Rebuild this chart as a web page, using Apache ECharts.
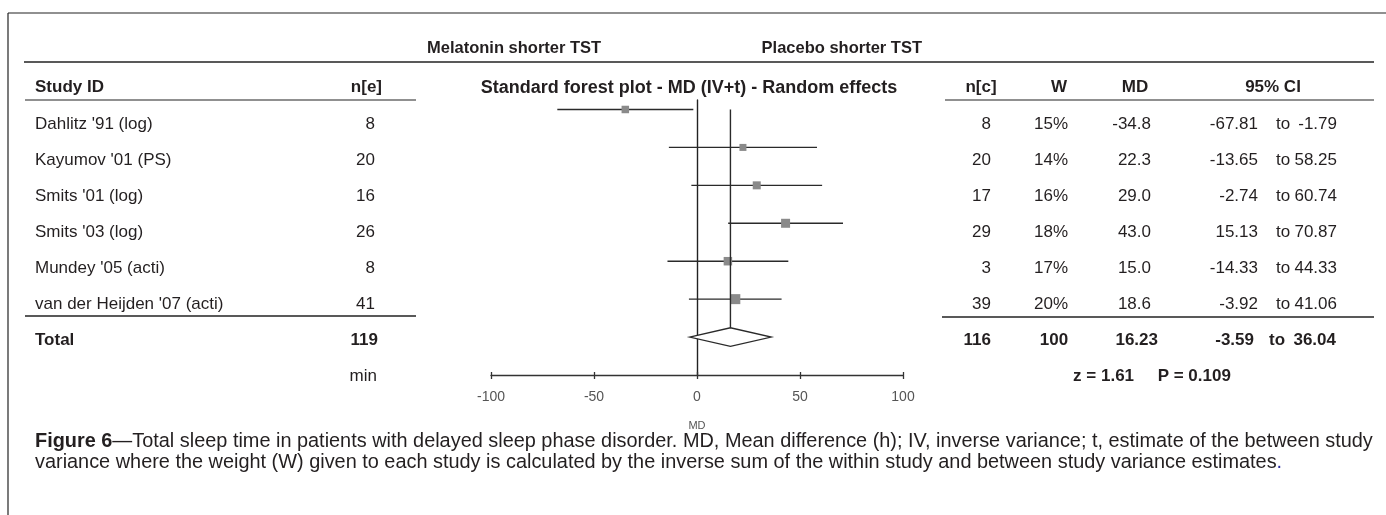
<!DOCTYPE html>
<html>
<head>
<meta charset="utf-8">
<script src="https://cdn.jsdelivr.net/npm/echarts@6/dist/echarts.min.js"></script>
<style>
  html, body { margin: 0; padding: 0; background: #fff; }
  #chart { width: 1386px; height: 515px; }
</style>
</head>
<body>
<div id="chart"></div>
<script>
// --- data ---
const studies = ["Dahlitz '91 (log)", "Kayumov '01 (PS)", "Smits '01 (log)", "Smits '03 (log)", "Mundey '05 (acti)", "van der Heijden '07 (acti)"];
const nE = [8, 20, 16, 26, 8, 41];
const nC = [8, 20, 17, 29, 3, 39];
const weights = [15, 14, 16, 18, 17, 20];
const md = [-34.8, 22.3, 29.0, 43.0, 15.0, 18.6];
const ciLow = [-67.81, -13.65, -2.74, 15.13, -14.33, -3.92];
const ciHigh = [-1.79, 58.25, 60.74, 70.87, 44.33, 41.06];
const totals = { nE: 119, nC: 116, w: 100 };
const pooled = [16.23, -3.59, 36.04]; // MD, low, high
const zText = 'z = 1.61     P = 0.109';
const xTicks = { min: -100, max: 100, step: 50 };

// --- layout ---
const FONT = '"Liberation Sans", Arial, sans-serif';
const INK = '#231f20';
const COL = { study: 35, nE: 375, nC: 991, w: 1051, md: 1151, lo: 1258, to: 1283, hi: 1337 };
const TOT = { nE: 378, nC: 991, w: 1054, md: 1158, lo: 1254, to: 1277, hi: 1336 };
const ROW_TOTAL = 6, ROW_FOOT = 7;
const CAP = 19.9;

const chart = echarts.init(document.getElementById('chart'));

// text cell: column x from layout, row y from the table axis
function cellSeries(name, rows, x, align, weight) {
  return {
    type: 'custom', name: name, xAxisIndex: 0, yAxisIndex: 0,
    data: rows,
    renderItem: function (params, api) {
      const p = api.coord([0, api.value(0)]);
      return {
        type: 'text', x: x, y: p[1],
        style: {
          text: String(rows[params.dataIndex][1]),
          fill: INK, font: (weight || 'normal') + ' 17px ' + FONT,
          align: align, textAlign: align, verticalAlign: 'middle', textVerticalAlign: 'middle'
        }
      };
    }
  };
}
const idx = (arr, f) => arr.map((v, i) => [i, f ? f(v) : v]);

function txt(x, y, text, opts) {
  opts = opts || {};
  return {
    type: 'text', x: x, y: y, silent: true,
    style: {
      text: text, fill: opts.fill || INK,
      font: (opts.weight || 'normal') + ' ' + (opts.size || 17) + 'px ' + FONT,
      align: opts.align || 'left', textAlign: opts.align || 'left',
      verticalAlign: 'middle', textVerticalAlign: 'middle',
      rich: opts.rich
    }
  };
}
function rule(x1, y1, x2, y2, w) {
  return { type: 'line', silent: true, shape: { x1: x1, y1: y1, x2: x2, y2: y2 }, style: { stroke: '#222', lineWidth: w || 1.2 } };
}

const option = {
  animation: false,
  grid: [
    { left: 0, right: 0, top: 124.5, height: 252 },           // table rows
    { left: 491, right: 483, top: 100, bottom: 140 }          // forest plot
  ],
  xAxis: [
    { gridIndex: 0, type: 'value', min: 0, max: 1386, show: false },
    {
      gridIndex: 1, type: 'value', min: xTicks.min, max: xTicks.max, interval: xTicks.step,
      position: 'bottom', splitLine: { show: false },
      axisLine: { onZero: false, lineStyle: { color: '#333', width: 1.3 } },
      axisTick: { length: 4, lineStyle: { color: '#333', width: 1.3 } },
      axisLabel: { color: '#555', fontSize: 14, fontFamily: FONT, margin: 15 },
      name: 'MD', nameLocation: 'middle', nameGap: 45,
      nameTextStyle: { color: '#555', fontSize: 11, fontFamily: FONT }
    },
    {
      gridIndex: 1, type: 'value', min: xTicks.min, max: xTicks.max, interval: xTicks.step,
      position: 'bottom', splitLine: { show: false },
      axisLine: { show: false, onZero: false },
      axisTick: { inside: true, length: 3, lineStyle: { color: '#333', width: 1.3 } },
      axisLabel: { show: false }
    }
  ],
  yAxis: [
    { gridIndex: 0, type: 'value', min: 0, max: 7, inverse: true, show: false },
    {
      gridIndex: 1, type: 'value', min: -0.25, max: 7, inverse: true,
      splitLine: { show: false }, axisTick: { show: false }, axisLabel: { show: false },
      axisLine: { show: true, onZero: true, lineStyle: { color: '#222', width: 1.4 } }
    }
  ],
  series: [
    // study table
    cellSeries('study', idx(studies), COL.study, 'left'),
    cellSeries('nE', idx(nE), COL.nE, 'right'),
    cellSeries('nC', idx(nC), COL.nC, 'right'),
    cellSeries('W', idx(weights, v => v + '%'), COL.w, 'center'),
    cellSeries('MD', idx(md, v => v.toFixed(1)), COL.md, 'right'),
    cellSeries('lo', idx(ciLow, v => v.toFixed(2)), COL.lo, 'right'),
    cellSeries('to', idx(ciLow, () => 'to'), COL.to, 'center'),
    cellSeries('hi', idx(ciHigh, v => v.toFixed(2)), COL.hi, 'right'),
    // total row
    cellSeries('totLabel', [[ROW_TOTAL, 'Total']], COL.study, 'left', 'bold'),
    cellSeries('totNE', [[ROW_TOTAL, totals.nE]], TOT.nE, 'right', 'bold'),
    cellSeries('totNC', [[ROW_TOTAL, totals.nC]], TOT.nC, 'right', 'bold'),
    cellSeries('totW', [[ROW_TOTAL, totals.w]], TOT.w, 'center', 'bold'),
    cellSeries('totMD', [[ROW_TOTAL, pooled[0].toFixed(2)]], TOT.md, 'right', 'bold'),
    cellSeries('totLo', [[ROW_TOTAL, pooled[1].toFixed(2)]], TOT.lo, 'right', 'bold'),
    cellSeries('totTo', [[ROW_TOTAL, 'to']], TOT.to, 'center', 'bold'),
    cellSeries('totHi', [[ROW_TOTAL, pooled[2].toFixed(2)]], TOT.hi, 'right', 'bold'),
    cellSeries('min', [[ROW_FOOT, 'min']], 377, 'right'),
    cellSeries('z', [[ROW_FOOT, zText]], 1152, 'center', 'bold'),
    // forest plot: CI lines and weight squares
    {
      type: 'custom', name: 'studies', xAxisIndex: 1, yAxisIndex: 1,
      data: studies.map((s, i) => [md[i], i, ciLow[i], ciHigh[i], weights[i]]),
      renderItem: function (params, api) {
        const y = api.value(1);
        const c = api.coord([api.value(0), y]);
        const lo = api.coord([api.value(2), y]);
        const hi = api.coord([api.value(3), y]);
        const s = api.value(4) * 0.5;
        return {
          type: 'group', children: [
            { type: 'line', shape: { x1: lo[0], y1: c[1], x2: hi[0], y2: c[1] }, style: { stroke: '#2a2a2a', lineWidth: 1.4 } },
            { type: 'rect', shape: { x: c[0] - s / 2, y: c[1] - s / 2, width: s, height: s }, style: { fill: '#8a8a8a' } }
          ]
        };
      }
    },
    // pooled estimate: diamond + vertical reference line
    {
      type: 'custom', name: 'pooled', xAxisIndex: 1, yAxisIndex: 1,
      data: [[pooled[0], ROW_TOTAL, pooled[1], pooled[2]]],
      renderItem: function (params, api) {
        const y = api.value(1);
        const c = api.coord([api.value(0), y]);
        const lo = api.coord([api.value(2), y]);
        const hi = api.coord([api.value(3), y]);
        const top = api.coord([api.value(0), 0]);
        const h = 9.3;
        return {
          type: 'group', children: [
            { type: 'line', shape: { x1: c[0], y1: top[1], x2: c[0], y2: c[1] - h }, style: { stroke: '#2a2a2a', lineWidth: 1.4 } },
            {
              type: 'polygon',
              shape: { points: [[lo[0], c[1]], [c[0], c[1] - h], [hi[0], c[1]], [c[0], c[1] + h]] },
              style: { fill: '#fff', stroke: '#2a2a2a', lineWidth: 1.3 }
            }
          ]
        };
      }
    }
  ],
  graphic: [
    // frame and rules
    rule(8, 13, 1386, 13),
    rule(8, 13, 8, 515),
    rule(24, 62, 1374, 62, 1.6),
    rule(25, 100, 416, 100),
    rule(945, 100, 1374, 100),
    rule(25, 316, 416, 316, 1.6),
    rule(942, 317, 1374, 317, 1.6),
    // headers
    txt(427, 48, 'Melatonin shorter TST', { weight: 'bold', size: 16.5 }),
    txt(922, 48, 'Placebo shorter TST', { weight: 'bold', size: 16.5, align: 'right' }),
    txt(35, 87, 'Study ID', { weight: 'bold' }),
    txt(382, 87, 'n[e]', { weight: 'bold', align: 'right' }),
    txt(689, 88, 'Standard forest plot - MD (IV+t) - Random effects', { weight: 'bold', size: 18, align: 'center' }),
    txt(981, 87, 'n[c]', { weight: 'bold', align: 'center' }),
    txt(1059, 87, 'W', { weight: 'bold', align: 'center' }),
    txt(1135, 87, 'MD', { weight: 'bold', align: 'center' }),
    txt(1273, 87, '95% CI', { weight: 'bold', align: 'center' }),
    // caption
    txt(35, 442, '{b|Figure 6}\u2014Total sleep time in patients with delayed sleep phase disorder. MD, Mean difference (h); IV, inverse variance; t, estimate of the between study',
      { size: CAP, rich: { b: { fontWeight: 'bold', fontSize: CAP, fontFamily: FONT, fill: INK, color: INK } } }),
    txt(35, 463, 'variance where the weight (W) given to each study is calculated by the inverse sum of the within study and between study variance estimates{p|.}',
      { size: CAP, rich: { p: { fontSize: CAP, fontFamily: FONT, color: '#2a2aa0', fill: '#2a2aa0' } } })
  ]
};

chart.setOption(option);
</script>
</body>
</html>
